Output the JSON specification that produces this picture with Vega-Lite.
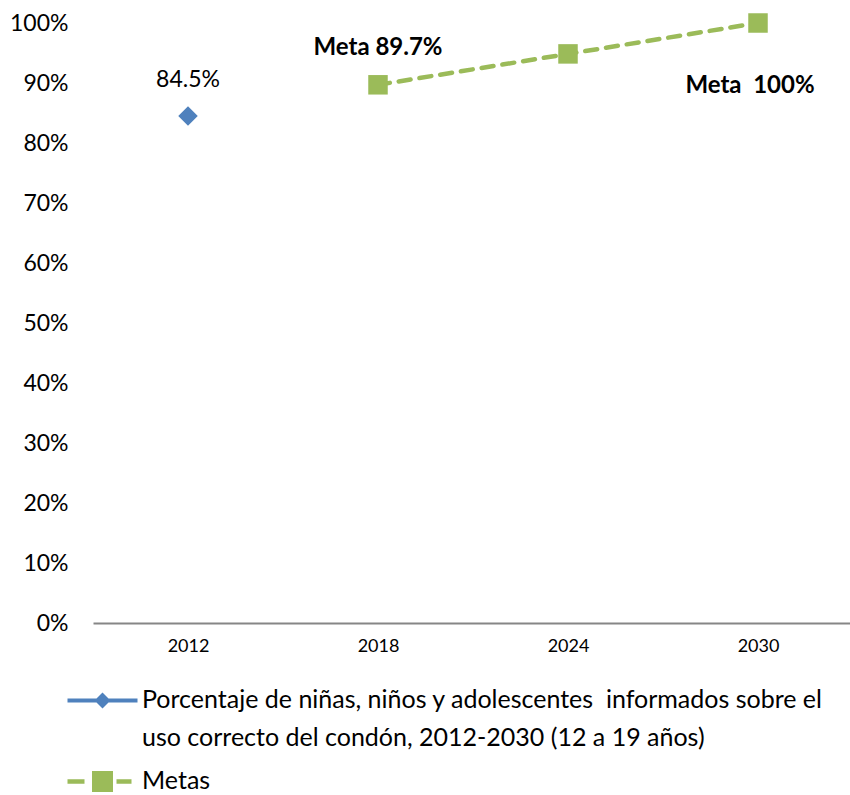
{
  "$schema": "https://vega.github.io/schema/vega-lite/v6.json",
  "width": 760,
  "height": 600,
  "autosize": {"type": "none"},
  "padding": {"left": 93, "top": 23, "right": 0, "bottom": 172},
  "background": "white",
  "config": {
    "view": {"stroke": null},
    "font": "Lato",
    "text": {"font": "Lato"}
  },
  "data": {
    "values": [
      {"anio": "2012", "valor": 0.845, "serie": "Porcentaje de niñas, niños y adolescentes  informados sobre el uso correcto del condón, 2012-2030 (12 a 19 años)", "etiqueta": "84.5%"},
      {"anio": "2018", "valor": 0.897, "serie": "Metas", "etiqueta": "Meta 89.7%"},
      {"anio": "2024", "valor": 0.9485, "serie": "Metas", "etiqueta": ""},
      {"anio": "2030", "valor": 1.0, "serie": "Metas", "etiqueta": "Meta\u00a0 100%"}
    ]
  },
  "encoding": {
    "x": {
      "field": "anio",
      "type": "ordinal",
      "sort": ["2012", "2018", "2024", "2030"],
      "scale": {"type": "point", "padding": 0.5},
      "axis": {
        "title": null,
        "labelAngle": 0,
        "labelFontSize": 18,
        "labelColor": "black",
        "labelPadding": 14,
        "ticks": false,
        "domainColor": "#868686",
        "domainWidth": 2,
        "grid": false
      }
    },
    "y": {
      "field": "valor",
      "type": "quantitative",
      "scale": {"domain": [0, 1], "nice": false},
      "axis": {
        "title": null,
        "values": [0, 0.1, 0.2, 0.3, 0.4, 0.5, 0.6, 0.7, 0.8, 0.9, 1],
        "format": ".0%",
        "labelFontSize": 23,
        "labelColor": "black",
        "labelPadding": 25,
        "ticks": false,
        "domain": false,
        "grid": false
      }
    }
  },
  "layer": [
    {
      "transform": [{"filter": "datum.serie == 'Metas'"}],
      "mark": {"type": "line", "color": "#9BBB59", "strokeWidth": 4.5, "strokeDash": [12, 9], "strokeCap": "round"}
    },
    {
      "mark": {"type": "point", "filled": true, "opacity": 1, "size": 380, "strokeWidth": 0},
      "encoding": {
        "shape": {
          "condition": {"test": "datum.serie == 'Metas'", "value": "square"},
          "value": "diamond"
        },
        "color": {
          "field": "serie",
          "type": "nominal",
          "scale": {
            "domain": ["Porcentaje de niñas, niños y adolescentes  informados sobre el uso correcto del condón, 2012-2030 (12 a 19 años)", "Metas"],
            "range": ["#4F81BD", "#9BBB59"]
          },
          "legend": {
            "title": null,
            "orient": "none",
            "legendX": -3,
            "legendY": 665,
            "direction": "vertical",
            "padding": 0,
            "symbolSize": 400,
            "symbolStrokeWidth": 0,
            "symbolOpacity": 1,
            "labelFontSize": 25,
            "labelColor": "black",
            "labelLimit": 0,
            "labelOffset": 27,
            "labelBaseline": "top",
            "rowPadding": 17,
            "labelExpr": "datum.label == 'Metas' ? 'Metas' : ['Porcentaje de niñas, niños y adolescentes\u00a0 informados sobre el', 'uso correcto del condón, 2012-2030 (12 a 19 años)']",
            "encode": {
              "symbols": {
                "update": {
                  "shape": {"signal": "datum.value == 'Metas' ? 'M-3.5,-0.22H-1.8V0.22H-3.5Z M-1.05,-1.05H1.05V1.05H-1.05Z M1.4,-0.22H2.9V0.22H1.4Z' : 'M-3.5,-0.2H3.5V0.2H-3.5Z M0,-0.8L0.8,0L0,0.8L-0.8,0Z'"},
                  "opacity": {"value": 1}
                }
              },
              "labels": {
                "update": {
                  "lineHeight": {"value": 38},
                  "dy": {"value": -13}
                }
              }
            }
          }
        }
      }
    },
    {
      "transform": [{"filter": "datum.anio == '2012'"}],
      "mark": {"type": "text", "fontSize": 23, "dy": -36, "color": "black"},
      "encoding": {"text": {"field": "etiqueta"}}
    },
    {
      "transform": [{"filter": "datum.anio == '2018'"}],
      "mark": {"type": "text", "fontSize": 24, "fontWeight": "bold", "dy": -37, "color": "black"},
      "encoding": {"text": {"field": "etiqueta"}}
    },
    {
      "transform": [{"filter": "datum.anio == '2030'"}],
      "mark": {"type": "text", "fontSize": 24, "fontWeight": "bold", "dy": 63, "dx": -8, "color": "black"},
      "encoding": {"text": {"field": "etiqueta"}}
    }
  ]
}
